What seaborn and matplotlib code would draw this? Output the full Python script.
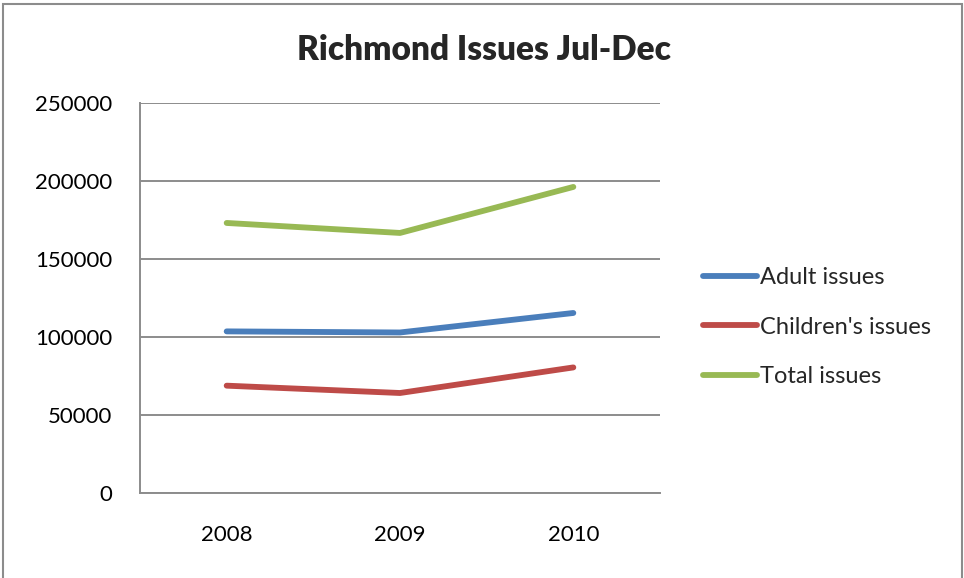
import pandas as pd
import numpy as np
import matplotlib
matplotlib.use("Agg")
import matplotlib.pyplot as plt
import seaborn as sns
from matplotlib.patches import Rectangle

# data
years = ["2008", "2009", "2010"]
adult = [103600, 102900, 115400]
children = [68800, 64100, 80500]
total = [173100, 166700, 196200]
series_names = ["Adult issues", "Children's issues", "Total issues"]
colors = ["#4A7EBB", "#BE4B48", "#98B954"]

df = pd.DataFrame({
    "year": years * 3,
    "value": adult + children + total,
    "series": [series_names[0]] * 3 + [series_names[1]] * 3 + [series_names[2]] * 3,
})

sns.set_style("white")
plt.rcParams["font.family"] = ["Lato", "DejaVu Sans"]

fig = plt.figure(figsize=(9.64, 5.78), dpi=100)
ax = fig.add_axes([140 / 964, 1 - 493 / 578, 520 / 964, 390 / 578])

sns.lineplot(data=df, x="year", y="value", hue="series", palette=colors,
             linewidth=4.2, ax=ax, sort=False)
for line in ax.get_lines():
    line.set_solid_capstyle("round")
    line.set_solid_joinstyle("round")

ax.set_xlim(-0.5, 2.5)
ax.set_ylim(0, 250000)
ax.set_yticks(range(0, 250001, 50000))
ax.set_yticklabels([str(v) for v in range(0, 250001, 50000)])
ax.yaxis.grid(True, color="#8C8C8C", linewidth=1.4)
ax.set_axisbelow(True)
ax.set_xlabel("")
ax.set_ylabel("")
ax.tick_params(axis="both", length=0, labelsize=16, colors="black")
ax.tick_params(axis="y", pad=20)
ax.tick_params(axis="x", pad=23)
for side in ["top", "right"]:
    ax.spines[side].set_visible(False)
for side in ["left", "bottom"]:
    ax.spines[side].set_color("#8C8C8C")
    ax.spines[side].set_linewidth(1.4)

leg = ax.legend(loc="center left", frameon=False,
                fontsize=17, handlelength=2.3, handletextpad=0.12,
                labelspacing=1.2, borderpad=0)
leg.set_bbox_to_anchor((691 / 964, 1 - 327 / 578), transform=fig.transFigure)
for h in leg.get_lines():
    h.set_linewidth(4.2)
    h.set_solid_capstyle("round")

fig.text(484 / 964, 1 - 50 / 578, "Richmond Issues Jul-Dec", ha="center",
         va="center", fontsize=24, fontweight="heavy")

fig.patches.append(Rectangle((3 / 964, -0.01), 959 / 964, 1.0 - 4 / 578 + 0.01,
                             transform=fig.transFigure, fill=False,
                             edgecolor="#8C8C8C", linewidth=1.5))

fig.savefig("out.png", dpi=100)
